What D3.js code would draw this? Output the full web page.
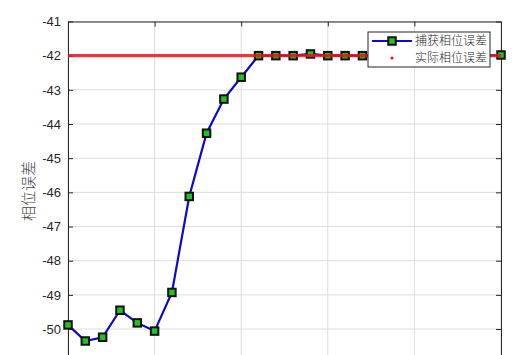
<!DOCTYPE html>
<html>
<head>
<meta charset="utf-8">
<script src="https://cdn.jsdelivr.net/npm/d3@7"></script>
<style>
  body { margin: 0; background: #fff; }
  svg { display: block; }
</style>
</head>
<body>
<div id="chart"></div>
<script>
const width = 527;
const height = 355;

// 捕获相位误差 (samples 18-24 sit behind the legend, read as -42)
const samples = d3.range(0, 26);
const captured = [
  -49.88, -50.35, -50.24, -49.45, -49.82, -50.06, -48.93, -46.12, -44.27, -43.27,
  -42.63, -42.0, -42.0, -42.0, -41.95, -42.0, -42.0, -42.0, -42.0, -42.0,
  -42.0, -42.0, -42.0, -42.0, -42.0, -41.98
];
// 实际相位误差
const actual = samples.map(() => -42);
const yTicks = [-41, -42, -43, -44, -45, -46, -47, -48, -49, -50, -51];
const xTicks = [0, 5, 10, 15, 20, 25];
const seriesNames = ["捕获相位误差", "实际相位误差"];

const plot = { left: 68, right: 501, top: 21.5, bottom: 363.2 };

const x = d3.scaleLinear().domain([0, 25]).range([plot.left, plot.right]);
const y = d3.scaleLinear().domain([-51, -41]).range([plot.bottom, plot.top]);

const svg = d3.select("#chart").append("svg")
  .attr("width", width)
  .attr("height", height)
  .style("font-family", "Arial, 'Liberation Sans', sans-serif");

// grid
svg.append("g")
  .selectAll("line.gx")
  .data(xTicks)
  .join("line")
  .attr("x1", d => x(d)).attr("x2", d => x(d))
  .attr("y1", plot.top).attr("y2", plot.bottom)
  .attr("stroke", "#dcdcdc").attr("stroke-width", 1);

svg.append("g")
  .selectAll("line.gy")
  .data(yTicks)
  .join("line")
  .attr("x1", plot.left).attr("x2", plot.right)
  .attr("y1", d => y(d)).attr("y2", d => y(d))
  .attr("stroke", "#dcdcdc").attr("stroke-width", 1);

// axes (MATLAB style, ticks inside, box on)
const axisStyle = g => {
  g.select(".domain").attr("stroke", "#262626");
  g.selectAll(".tick line").attr("stroke", "#262626");
  g.selectAll(".tick text").attr("fill", "#262626").attr("font-size", 13);
};

// the frame runs past the bottom of the picture, so the lowest labels are off-screen
const shown = yTicks.filter(d => y(d) < height - 8);

svg.append("g")
  .attr("transform", `translate(${plot.left},0)`)
  .call(d3.axisLeft(y).tickValues(shown).tickSizeInner(-5).tickSizeOuter(0).tickPadding(7)
    .tickFormat(d => String(d)))
  .call(axisStyle);

svg.append("g")
  .attr("transform", `translate(${plot.right},0)`)
  .call(d3.axisRight(y).tickValues(shown).tickSizeInner(-5).tickSizeOuter(0).tickFormat(""))
  .call(axisStyle);

svg.append("g")
  .attr("transform", `translate(0,${plot.top})`)
  .call(d3.axisTop(x).tickValues(xTicks).tickSizeInner(-5).tickSizeOuter(0).tickFormat(""))
  .call(axisStyle);

// y label
svg.append("text")
  .attr("transform", `translate(34,191) rotate(-90)`)
  .attr("text-anchor", "middle")
  .attr("font-family", "'Noto Sans CJK SC', sans-serif")
  .attr("font-size", 15)
  .attr("font-weight", 300)
  .attr("fill", "#404040")
  .text("相位误差");

// captured series
const line = d3.line().x((d, i) => x(samples[i])).y(d => y(d));

svg.append("path")
  .datum(captured)
  .attr("fill", "none")
  .attr("stroke", "#0a0ac8")
  .attr("stroke-width", 2.2)
  .attr("d", line);

const ms = 7.5;
svg.append("g")
  .selectAll("rect")
  .data(captured)
  .join("rect")
  .attr("x", (d, i) => x(samples[i]) - ms / 2)
  .attr("y", d => y(d) - ms / 2)
  .attr("width", ms).attr("height", ms)
  .attr("fill", "#1fc41f")
  .attr("stroke", "#111")
  .attr("stroke-width", 2);

// actual series (dense red dots rendered as a thick line)
svg.append("path")
  .datum(actual)
  .attr("fill", "none")
  .attr("stroke", "#e8141c")
  .attr("stroke-width", 3.4)
  .attr("stroke-opacity", 0.85)
  .attr("d", line);

// legend
const lg = svg.append("g").attr("transform", "translate(368,32)");
lg.append("rect")
  .attr("width", 122).attr("height", 35)
  .attr("fill", "#fff").attr("stroke", "#262626").attr("stroke-width", 1);

lg.append("line")
  .attr("x1", 4).attr("x2", 44).attr("y1", 9).attr("y2", 9)
  .attr("stroke", "#0a0ac8").attr("stroke-width", 2.2);
lg.append("rect")
  .attr("x", 24 - ms / 2).attr("y", 9 - ms / 2)
  .attr("width", ms).attr("height", ms)
  .attr("fill", "#1fc41f").attr("stroke", "#111").attr("stroke-width", 2);
lg.append("circle")
  .attr("cx", 24).attr("cy", 26).attr("r", 1.6)
  .attr("fill", "#e8141c");

lg.selectAll("text")
  .data(seriesNames)
  .join("text")
  .attr("x", 47)
  .attr("y", (d, i) => 9 + i * 17)
  .attr("dy", "0.35em")
  .attr("font-family", "'Noto Sans CJK SC', sans-serif")
  .attr("font-size", 12)
  .attr("font-weight", 300)
  .attr("fill", "#262626")
  .text(d => d);
</script>
</body>
</html>
